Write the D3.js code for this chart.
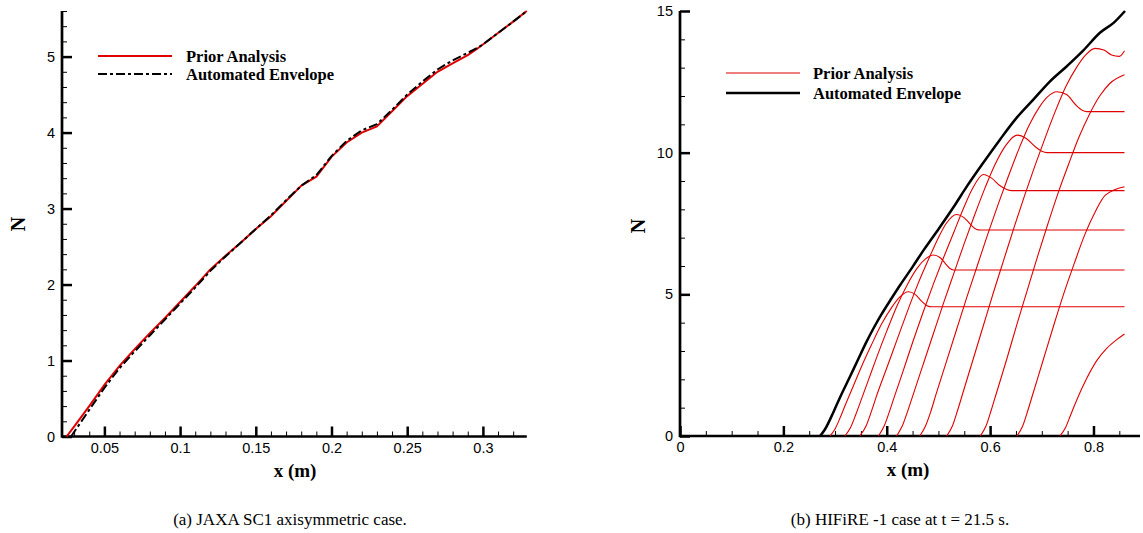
<!DOCTYPE html>
<html>
<head>
<meta charset="utf-8">
<script src="https://cdn.jsdelivr.net/npm/d3@7"></script>
<style>
  body { margin: 0; background: #fff; }
  .tick text { font-family: "Liberation Sans", Arial, sans-serif; font-size: 14.5px; fill: #000; }
  .ttl { font-family: "Liberation Serif", "Times New Roman", serif; font-weight: bold; }
</style>
</head>
<body>
<div id="vis"></div>
<script>
////////// data: (a) JAXA SC1 //////////
var jaxaPriorX = [0.025,0.03,0.04,0.05,0.06,0.07,0.08,0.09,0.10,0.11,0.12,0.13,0.14,0.15,0.16,0.17,0.18,0.19,0.20,0.21,0.22,0.23,0.24,0.25,0.26,0.27,0.28,0.29,0.296,0.30,0.31,0.32,0.329]
var jaxaPriorN = [0,0.13,0.40,0.68,0.93,1.15,1.36,1.56,1.77,1.98,2.20,2.38,2.55,2.73,2.90,3.10,3.30,3.42,3.68,3.87,4.00,4.08,4.28,4.48,4.64,4.80,4.91,5.02,5.10,5.16,5.31,5.46,5.60]
var jaxaEnvX = [0.028,0.03,0.04,0.05,0.06,0.07,0.08,0.09,0.10,0.11,0.12,0.13,0.14,0.15,0.16,0.17,0.18,0.19,0.20,0.21,0.22,0.23,0.24,0.25,0.26,0.27,0.28,0.29,0.296,0.30,0.31,0.32,0.329]
var jaxaEnvN = [0,0.06,0.35,0.64,0.90,1.12,1.33,1.54,1.75,1.96,2.18,2.37,2.55,2.73,2.91,3.11,3.30,3.44,3.69,3.89,4.03,4.11,4.30,4.50,4.67,4.83,4.95,5.05,5.11,5.16,5.31,5.46,5.60]

////////// data: (b) HIFiRE-1 //////////
var hifEnvX = [0.271,0.28,0.297,0.31,0.329,0.345,0.361,0.375,0.39,0.41,0.426,0.45,0.471,0.50,0.53,0.555,0.585,0.619,0.65,0.684,0.715,0.749,0.78,0.813,0.84,0.861]
var hifEnvN = [0,0.22,0.85,1.38,2.1,2.72,3.33,3.82,4.3,4.88,5.33,5.97,6.55,7.3,8.1,8.81,9.6,10.46,11.2,11.88,12.5,13.06,13.6,14.24,14.6,15.0]

// prior analysis curves, [x, N] pairs
var hifPrior = [
  [[0.29,0],[0.30,0.25],[0.31,0.65],[0.32,1.1],[0.335,1.75],[0.35,2.4],[0.37,3.2],[0.39,3.95],[0.41,4.55],[0.425,4.9],[0.442,5.09],[0.455,5.0],[0.468,4.75],[0.478,4.6],[0.487,4.56],[0.86,4.56]],
  [[0.319,0],[0.33,0.3],[0.34,0.75],[0.35,1.25],[0.365,2.0],[0.38,2.75],[0.40,3.7],[0.42,4.6],[0.44,5.35],[0.46,5.95],[0.475,6.25],[0.49,6.39],[0.503,6.3],[0.515,6.05],[0.523,5.9],[0.529,5.86],[0.86,5.86]],
  [[0.348,0],[0.36,0.35],[0.37,0.85],[0.38,1.4],[0.40,2.4],[0.42,3.4],[0.44,4.4],[0.46,5.35],[0.48,6.2],[0.50,7.0],[0.515,7.5],[0.535,7.82],[0.55,7.7],[0.563,7.45],[0.573,7.3],[0.581,7.27],[0.86,7.27]],
  [[0.384,0],[0.395,0.35],[0.405,0.85],[0.415,1.4],[0.43,2.2],[0.45,3.3],[0.47,4.35],[0.49,5.35],[0.51,6.3],[0.53,7.2],[0.55,8.1],[0.565,8.7],[0.587,9.23],[0.603,9.1],[0.618,8.85],[0.632,8.7],[0.642,8.66],[0.86,8.66]],
  [[0.419,0],[0.43,0.35],[0.44,0.85],[0.45,1.4],[0.47,2.5],[0.49,3.6],[0.51,4.7],[0.53,5.75],[0.55,6.8],[0.57,7.8],[0.59,8.75],[0.61,9.6],[0.63,10.25],[0.652,10.62],[0.67,10.5],[0.688,10.2],[0.70,10.05],[0.71,10.0],[0.86,10.0]],
  [[0.464,0],[0.475,0.35],[0.485,0.85],[0.495,1.45],[0.515,2.6],[0.535,3.75],[0.555,4.9],[0.575,6.0],[0.595,7.1],[0.615,8.15],[0.635,9.15],[0.655,10.1],[0.675,10.95],[0.695,11.6],[0.71,11.95],[0.729,12.15],[0.748,12.05],[0.765,11.7],[0.778,11.5],[0.787,11.45],[0.86,11.45]],
  [[0.516,0],[0.527,0.35],[0.537,0.9],[0.547,1.5],[0.567,2.7],[0.587,3.9],[0.607,5.1],[0.627,6.25],[0.647,7.4],[0.667,8.5],[0.687,9.55],[0.707,10.55],[0.727,11.5],[0.747,12.35],[0.767,13.0],[0.785,13.45],[0.803,13.68],[0.82,13.62],[0.835,13.45],[0.85,13.4],[0.86,13.6]],
  [[0.581,0],[0.592,0.35],[0.602,0.9],[0.612,1.5],[0.632,2.7],[0.652,3.95],[0.672,5.15],[0.692,6.35],[0.712,7.5],[0.732,8.6],[0.752,9.6],[0.772,10.55],[0.792,11.35],[0.812,12.0],[0.832,12.45],[0.86,12.75]],
  [[0.652,0],[0.663,0.35],[0.673,0.9],[0.683,1.5],[0.703,2.7],[0.723,3.9],[0.743,5.05],[0.763,6.1],[0.783,7.1],[0.803,7.9],[0.823,8.5],[0.86,8.8]],
  [[0.735,0],[0.746,0.3],[0.756,0.75],[0.766,1.2],[0.786,2.0],[0.806,2.65],[0.826,3.1],[0.845,3.4],[0.86,3.6]]
]

var width = 1143, height = 533

var svg = d3.select("#vis").append("svg")
  .attr("width", width).attr("height", height)
  .style("background", "#fff")

//////// helper: draw a panel frame with inward ticks ////////
function frame(x, y, xMajor, xMinor, yMajor, yMinor, titleX) {
  var g = svg.append("g")
  var x0 = x.range()[0], y0 = y.range()[0]

  g.append("g").attr("transform", "translate(0," + y0 + ")")
    .call(d3.axisBottom(x).tickValues(xMinor).tickSize(-5).tickFormat(""))
    .call(s => s.select(".domain").remove())
    .selectAll("line").attr("stroke", "#000").attr("stroke-width", 1)
  g.append("g").attr("transform", "translate(0," + y0 + ")")
    .call(d3.axisBottom(x).tickValues(xMajor).tickSize(-10).tickPadding(6).tickFormat(d => d))
    .call(s => s.select(".domain").remove())
    .selectAll("line").attr("stroke", "#000").attr("stroke-width", 2.5)

  g.append("g").attr("transform", "translate(" + x0 + ",0)")
    .call(d3.axisLeft(y).tickValues(yMinor).tickSize(-5).tickFormat(""))
    .call(s => s.select(".domain").remove())
    .selectAll("line").attr("stroke", "#000").attr("stroke-width", 1)
  g.append("g").attr("transform", "translate(" + x0 + ",0)")
    .call(d3.axisLeft(y).tickValues(yMajor).tickSize(-10).tickPadding(7).tickFormat(d => d))
    .call(s => s.select(".domain").remove())
    .selectAll("line").attr("stroke", "#000").attr("stroke-width", 2.5)

  // thick axis lines
  g.append("line").attr("x1", x0).attr("x2", x.range()[1]).attr("y1", y0).attr("y2", y0)
    .attr("stroke", "#000").attr("stroke-width", 2.7)
  g.append("line").attr("x1", x0).attr("x2", x0).attr("y1", y.range()[1]).attr("y2", y0 + 1.3)
    .attr("stroke", "#000").attr("stroke-width", 2.7)

  g.append("text").attr("class", "ttl")
    .attr("x", titleX).attr("y", y0 + 40)
    .attr("text-anchor", "middle").attr("font-size", 19).text("x (m)")
  return g
}

//////// panel (a) ////////
var xa = d3.scaleLinear().domain([0.022, 0.329]).range([62, 526.8])
var ya = d3.scaleLinear().domain([0, 5.6]).range([436.5, 11])

var xaMinor = d3.range(3, 33).map(d => d / 100)
var yaMinor = d3.range(0, 29).map(d => d / 5)
frame(xa, ya, [0.05,0.1,0.15,0.2,0.25,0.3], xaMinor, [0,1,2,3,4,5], yaMinor, 295)

svg.append("text").attr("class", "ttl").attr("font-size", 20)
  .attr("transform", "translate(25,224) rotate(-90)").attr("text-anchor", "middle").text("N")

var lineA = (xs, ns) => d3.line().x((d, i) => xa(xs[i])).y((d, i) => ya(ns[i]))(xs)

svg.append("path").attr("d", lineA(jaxaPriorX, jaxaPriorN))
  .attr("fill", "none").attr("stroke", "#e00000").attr("stroke-width", 2)
svg.append("path").attr("d", lineA(jaxaEnvX, jaxaEnvN))
  .attr("fill", "none").attr("stroke", "#000").attr("stroke-width", 2).attr("stroke-dasharray", "9,3,3,3")

// legend (a)
var legA = [["Prior Analysis", "#e00000", null], ["Automated Envelope", "#000", "9,3,3,3"]]
legA.forEach(function(d, i) {
  var yy = 56 + i * 18
  svg.append("line").attr("x1", 98).attr("x2", 172).attr("y1", yy).attr("y2", yy)
    .attr("stroke", d[1]).attr("stroke-width", 2).attr("stroke-dasharray", d[2])
  svg.append("text").attr("class", "ttl").attr("font-size", 16.5)
    .attr("x", 186).attr("y", yy + 5.5).text(d[0])
})

//////// panel (b) ////////
var xb = d3.scaleLinear().domain([0, 0.89]).range([680, 1140])
var yb = d3.scaleLinear().domain([0, 15]).range([436, 11])

frame(xb, yb, [0,0.2,0.4,0.6,0.8], d3.range(1, 18).map(d => d * 0.05), [0,5,10,15], d3.range(1, 15), 908)

svg.append("text").attr("class", "ttl").attr("font-size", 20)
  .attr("transform", "translate(645,226) rotate(-90)").attr("text-anchor", "middle").text("N")

var lineB = d3.line().x(d => xb(d[0])).y(d => yb(d[1])).curve(d3.curveMonotoneX)

svg.append("g").selectAll("path").data(hifPrior).join("path")
  .attr("d", lineB).attr("fill", "none").attr("stroke", "#e00000").attr("stroke-width", 1.1)

svg.append("path").attr("d", lineB(hifEnvX.map((v, i) => [v, hifEnvN[i]])))
  .attr("fill", "none").attr("stroke", "#000").attr("stroke-width", 2.5)

// legend (b)
var legB = [["Prior Analysis", "#e00000", 1.1], ["Automated Envelope", "#000", 2.7]]
legB.forEach(function(d, i) {
  var yy = 73 + i * 20
  svg.append("line").attr("x1", 726).attr("x2", 800).attr("y1", yy).attr("y2", yy)
    .attr("stroke", d[1]).attr("stroke-width", d[2])
  svg.append("text").attr("class", "ttl").attr("font-size", 16.5)
    .attr("x", 813).attr("y", yy + 5.5).text(d[0])
})

//////// captions ////////
var captions = [["(a) JAXA SC1 axisymmetric case.", 290], ["(b) HIFiRE -1 case at t = 21.5 s.", 900]]
captions.forEach(function(c) {
  svg.append("text").attr("x", c[1]).attr("y", 525).attr("text-anchor", "middle")
    .attr("font-family", "Liberation Serif, Times New Roman, serif").attr("font-size", 17).text(c[0])
})
</script>
</body>
</html>
